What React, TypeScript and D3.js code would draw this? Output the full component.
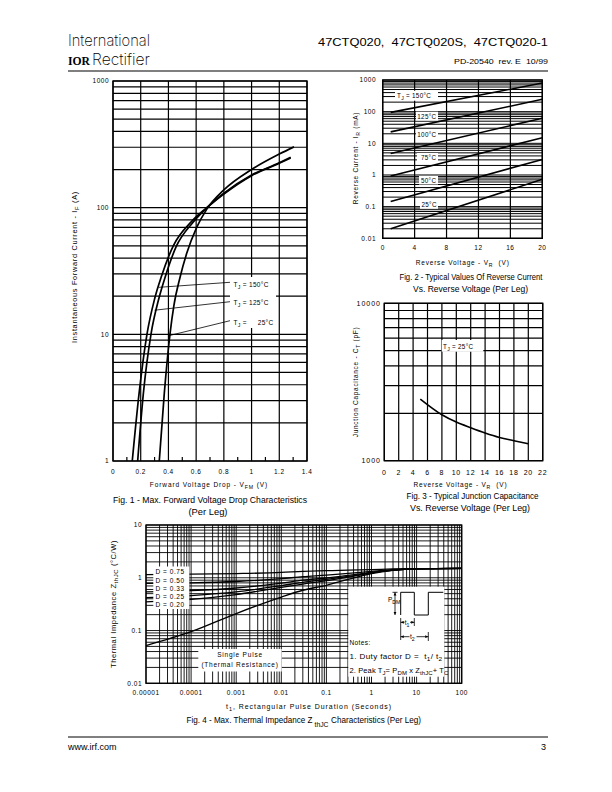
import React from 'react';
import * as d3 from 'd3';

const FONT = "'Liberation Sans', Arial, Helvetica, sans-serif";

// ---------------- Fig 1 data ----------------
const f1XTicks = [0, 0.2, 0.4, 0.6, 0.8, 1.0, 1.2, 1.4];
const f1XLabels = ['0', '0.2', '0.4', '0.6', '0.8', '1', '1.2', '1.4'];
const f1MinorX = [0.1, 0.3, 0.5, 0.7, 0.9, 1.1, 1.3];
const f1YTicks = [1, 10, 100, 1000];
const f1YLabels = ['1', '10', '100', '1000'];
const f1Tj150: [number, number][] = [[0.139, 1], [0.188, 3.4], [0.245, 10], [0.30, 19], [0.351, 29], [0.435, 50], [0.568, 78], [0.676, 100], [0.8, 130], [1.0, 181], [1.2, 226], [1.282, 250]];
const f1Tj125: [number, number][] = [[0.178, 1], [0.219, 3.4], [0.274, 10], [0.33, 19], [0.375, 28], [0.455, 49], [0.575, 76], [0.68, 100], [0.8, 128], [1.0, 179], [1.2, 224], [1.282, 247]];
const f1Tj25: [number, number][] = [[0.334, 1], [0.37, 3.4], [0.411, 10], [0.44, 17], [0.483, 28], [0.532, 43.6], [0.604, 70], [0.676, 97], [0.8, 138], [1.0, 200], [1.2, 265], [1.306, 302]];

// ---------------- Fig 2 data ----------------
const f2XTicks = [0, 4, 8, 12, 16, 20];
const f2YTicks = [0.01, 0.1, 1, 10, 100, 1000];
const f2YLabels = ['0.01', '0.1', '1', '10', '100', '1000'];
const f2Temps = ['150', '125', '100', '75', '50', '25'];
const f2Lines: [number, number][][] = [
  [[1, 95], [20, 800]],
  [[1, 23], [20, 245]],
  [[1, 4.8], [20, 62]],
  [[1, 0.93], [20, 15]],
  [[1, 0.145], [20, 3.1]],
  [[1, 0.02], [20, 0.73]],
];

// ---------------- Fig 3 data ----------------
const f3XTicks = [0, 2, 4, 6, 8, 10, 12, 14, 16, 18, 20, 22];
const f3YTicks = [1000, 10000];
const f3YLabels = ['1000', '10000'];
const f3Cap: [number, number][] = [[5, 2465], [8, 1960], [10, 1760], [12, 1620], [14, 1500], [16, 1405], [18, 1340], [20, 1280]];

// ---------------- Fig 4 data ----------------
const f4XTicks = [0.00001, 0.0001, 0.001, 0.01, 0.1, 1, 10, 100];
const f4XLabels = ['0.00001', '0.0001', '0.001', '0.01', '0.1', '1', '10', '100'];
const f4YTicks = [0.01, 0.1, 1, 10];
const f4YLabels = ['0.01', '0.1', '1', '10'];
const f4T = [1e-5, 1e-4, 1e-3, 1e-2, 3e-2, 1e-1, 3e-1, 1, 3, 10, 100];
const f4D075 = [1.15, 1.17, 1.2, 1.26, 1.32, 1.36, 1.4, 1.43, 1.47, 1.49, 1.5];
const f4D050 = [0.78, 0.8, 0.85, 0.96, 1.05, 1.12, 1.21, 1.32, 1.42, 1.48, 1.5];
const f4D033 = [0.54, 0.57, 0.64, 0.79, 0.9, 0.99, 1.11, 1.27, 1.4, 1.47, 1.5];
const f4D025 = [0.42, 0.46, 0.54, 0.71, 0.82, 0.93, 1.06, 1.24, 1.39, 1.47, 1.5];
const f4D020 = [0.35, 0.39, 0.48, 0.66, 0.76, 0.88, 1.03, 1.23, 1.39, 1.47, 1.5];
const f4Single = [0.052, 0.095, 0.21, 0.43, 0.58, 0.72, 0.93, 1.2, 1.38, 1.47, 1.5];
const f4DLabels = ['D = 0.75', 'D = 0.50', 'D = 0.33', 'D = 0.25', 'D = 0.20'];

function logGrid(min: number, max: number): number[] {
  const out: number[] = [];
  const e0 = Math.round(Math.log10(min));
  const e1 = Math.round(Math.log10(max));
  for (let e = e0; e < e1; e++) {
    for (let m = 1; m <= 9; m++) out.push(m * Math.pow(10, e));
  }
  out.push(max);
  return out;
}

type Part = string | { sub: string };

function Txt(props: {
  x: number; y: number; parts: Part[]; size?: number; anchor?: string; ls?: number;
  rot?: boolean; len?: number; family?: string; weight?: number | string; fill?: string;
}) {
  const { x, y, parts, size = 6.5, anchor = 'start', ls = 0, rot = false, len, family = FONT, weight, fill = '#000' } = props;
  const sh = size * 0.35;
  let shifted = false;
  const kids = parts.map((p, i) => {
    if (typeof p === 'string') {
      const el = <tspan key={i} dy={shifted ? -sh : 0}>{p}</tspan>;
      shifted = false;
      return el;
    }
    const el = <tspan key={i} dy={shifted ? 0 : sh} fontSize={size * 0.8}>{p.sub}</tspan>;
    shifted = true;
    return el;
  });
  const extra: any = {};
  if (len) { extra.textLength = len; extra.lengthAdjust = 'spacingAndGlyphs'; }
  return (
    <text x={rot ? 0 : x} y={rot ? 0 : y} transform={rot ? `translate(${x},${y}) rotate(-90)` : undefined}
      fontFamily={family} fontSize={size} textAnchor={anchor} fill={fill} fontWeight={weight}
      style={{ letterSpacing: ls ? `${ls}px` : undefined, whiteSpace: 'pre' }} {...extra}>
      {kids}
    </text>
  );
}

function Fig1() {
  const L = 113, R = 307, T = 81, B = 461;
  const x = d3.scaleLinear().domain([0, 1.4]).range([L, R]);
  const y = d3.scaleLog().domain([1, 1000]).range([B, T]);
  const line = d3.line<[number, number]>().x(d => x(d[0])).y(d => y(d[1])).curve(d3.curveMonotoneX);
  return (
    <g>
      {logGrid(1, 1000).map(v => <line key={'h' + v} x1={L} x2={R} y1={y(v)} y2={y(v)} stroke="#000" strokeWidth={1.2} />)}
      {f1XTicks.map(v => <line key={'v' + v} x1={x(v)} x2={x(v)} y1={T} y2={B} stroke="#000" strokeWidth={1.2} />)}
      {f1MinorX.map(v => <line key={'m' + v} x1={x(v)} x2={x(v)} y1={B} y2={B - 4} stroke="#000" strokeWidth={1.2} />)}
      {[f1Tj150, f1Tj125, f1Tj25].map((s, i) => <path key={i} d={line(s) || ''} fill="none" stroke="#000" strokeWidth={1.7} />)}
      <rect x={230} y={277} width={46} height={51} fill="#fff" />
      <line x1={230} y1={282.3} x2={x(0.33)} y2={y(23.5)} stroke="#000" strokeWidth={0.8} />
      <line x1={230} y1={301.7} x2={x(0.3)} y2={y(15.5)} stroke="#000" strokeWidth={0.8} />
      <line x1={230} y1={320.7} x2={x(0.41)} y2={y(9.8)} stroke="#000" strokeWidth={0.8} />
      <Txt x={233.5} y={286.5} parts={['T', { sub: 'J' }, ' = 150°C']} size={6.5} ls={0.3} />
      <Txt x={233.5} y={305} parts={['T', { sub: 'J' }, ' = 125°C']} size={6.5} ls={0.3} />
      <Txt x={233.5} y={324.5} parts={['T', { sub: 'J' }, ' =']} size={6.5} ls={0.3} />
      <Txt x={273.5} y={324.5} parts={['25°C']} size={6.5} ls={0.3} anchor="end" />
      <rect x={L} y={T} width={R - L} height={B - T} fill="none" stroke="#000" strokeWidth={1.4} />
      {f1YTicks.map((v, i) => <Txt key={'yl' + v} x={109} y={y(v) + 2.3} parts={[f1YLabels[i]]} anchor="end" ls={0.5} />)}
      {f1XTicks.map((v, i) => <Txt key={'xl' + v} x={x(v)} y={474} parts={[f1XLabels[i]]} anchor="middle" ls={0.5} />)}
      <Txt x={209} y={487} parts={['Forward Voltage Drop - V', { sub: 'FM' }, ' (V)']} anchor="middle" ls={0.9} />
      <Txt x={77} y={267} rot parts={['Instantaneous Forward Current - I', { sub: 'F' }, ' (A)']} anchor="middle" ls={0.6} len={152} />
      <Txt x={210} y={503} parts={['Fig. 1 - Max. Forward Voltage Drop Characteristics']} size={9} anchor="middle" len={194} />
      <Txt x={208} y={514.5} parts={['(Per Leg)']} size={9} anchor="middle" len={39} />
    </g>
  );
}

function Fig2() {
  const L = 382.7, R = 542.3, T = 80, B = 238.3;
  const x = d3.scaleLinear().domain([0, 20]).range([L, R]);
  const y = d3.scaleLog().domain([0.01, 1000]).range([B, T]);
  const line = d3.line<[number, number]>().x(d => x(d[0])).y(d => y(d[1]));
  const boxes = [
    { x: 395, y: 90.7, w: 43, h: 10, tx: 397, ty: 97.8, full: true },
    { x: 416, y: 111.7, w: 22, h: 8.8, tx: 417.3, ty: 118.5 },
    { x: 416, y: 130.5, w: 22, h: 8.8, tx: 417.3, ty: 137.4 },
    { x: 417, y: 153, w: 21, h: 8.5, tx: 421, ty: 160 },
    { x: 419, y: 176, w: 19, h: 8.5, tx: 421, ty: 182.5 },
    { x: 420, y: 200, w: 18, h: 8.8, tx: 421.5, ty: 206.8 },
  ];
  return (
    <g>
      {logGrid(0.01, 1000).map(v => <line key={'h' + v} x1={L} x2={R} y1={y(v)} y2={y(v)} stroke="#000" strokeWidth={1} />)}
      {f2XTicks.map(v => <line key={'v' + v} x1={x(v)} x2={x(v)} y1={T} y2={B} stroke="#000" strokeWidth={1.2} />)}
      {f2Lines.map((s, i) => <path key={i} d={line(s) || ''} fill="none" stroke="#000" strokeWidth={1.6} />)}
      {boxes.map((b, i) => (
        <g key={'b' + i}>
          <rect x={b.x} y={b.y} width={b.w} height={b.h} fill="#fff" />
          <Txt x={b.tx} y={b.ty} parts={b.full ? ['T', { sub: 'J' }, ' = ' + f2Temps[i] + '°C'] : [f2Temps[i] + '°C']} size={6.3} ls={0.3} />
        </g>
      ))}
      <rect x={L} y={T} width={R - L} height={B - T} fill="none" stroke="#000" strokeWidth={1.4} />
      {f2YTicks.map((v, i) => <Txt key={'yl' + v} x={376} y={y(v) + 2.3} parts={[f2YLabels[i]]} anchor="end" ls={0.5} />)}
      {f2XTicks.map(v => <Txt key={'xl' + v} x={x(v)} y={249.5} parts={[String(v)]} anchor="middle" ls={0.5} />)}
      <Txt x={462.7} y={265} parts={['Reverse Voltage - V', { sub: 'R' }, '  (V)']} anchor="middle" ls={0.8} />
      <Txt x={358} y={158} rot parts={['Reverse Current - I', { sub: 'R' }, ' (mA)']} anchor="middle" ls={0.7} />
      <Txt x={471} y={280} parts={['Fig. 2 - Typical Values Of Reverse Current']} size={9} anchor="middle" len={143} />
      <Txt x={470.5} y={292} parts={['Vs. Reverse Voltage (Per Leg)']} size={9} anchor="middle" len={115} />
    </g>
  );
}

function Fig3() {
  const L = 384.3, R = 542.7, T = 303.3, B = 460.7;
  const x = d3.scaleLinear().domain([0, 22]).range([L, R]);
  const y = d3.scaleLog().domain([1000, 10000]).range([B, T]);
  const line = d3.line<[number, number]>().x(d => x(d[0])).y(d => y(d[1])).curve(d3.curveMonotoneX);
  return (
    <g>
      {logGrid(1000, 10000).map(v => <line key={'h' + v} x1={L} x2={R} y1={y(v)} y2={y(v)} stroke="#000" strokeWidth={1.2} />)}
      {f3XTicks.map(v => <line key={'v' + v} x1={x(v)} x2={x(v)} y1={T} y2={B} stroke="#000" strokeWidth={1.2} />)}
      <path d={line(f3Cap) || ''} fill="none" stroke="#000" strokeWidth={1.6} />
      <rect x={441.7} y={340} width={41.6} height={11.7} fill="#fff" />
      <Txt x={443} y={348.5} parts={['T', { sub: 'J' }, ' = 25°C']} size={6.3} ls={0.3} />
      <rect x={L} y={T} width={R - L} height={B - T} fill="none" stroke="#000" strokeWidth={1.4} />
      {f3YTicks.map((v, i) => <Txt key={'yl' + v} x={381} y={y(v) + 2.4} parts={[f3YLabels[i]]} anchor="end" size={7} ls={1} />)}
      {f3XTicks.map(v => <Txt key={'xl' + v} x={x(v)} y={475} parts={[String(v)]} anchor="middle" size={7} ls={0.7} />)}
      <Txt x={460.5} y={486.5} parts={['Reverse Voltage - V', { sub: 'R' }, '  (V)']} anchor="middle" ls={0.8} />
      <Txt x={358} y={382} rot parts={['Junction Capacitance - C', { sub: 'T' }, ' (pF)']} anchor="middle" ls={0.7} />
      <Txt x={472.5} y={499} parts={['Fig. 3 - Typical Junction Capacitance']} size={9} anchor="middle" len={132} />
      <Txt x={470} y={511} parts={['Vs. Reverse Voltage (Per Leg)']} size={9} anchor="middle" len={120} />
    </g>
  );
}

function Fig4() {
  const L = 146, R = 461.7, T = 525, B = 683.3;
  const x = d3.scaleLog().domain([1e-5, 100]).range([L, R]);
  const y = d3.scaleLog().domain([0.01, 10]).range([B, T]);
  const line = d3.line<number>().x((_, i) => x(f4T[i])).y(d => y(d)).curve(d3.curveMonotoneX);
  const series = [f4D075, f4D050, f4D033, f4D025, f4D020, f4Single];
  const px0 = 400.7, px1 = 414.3, px2 = 428.3, px3 = 443.3, hi = 592.3, lo = 615;
  const arrow = (ax: number, ay: number, dir: string) => {
    const s = 2.2;
    let pts = '';
    if (dir === 'up') pts = `${ax},${ay} ${ax - s / 1.6},${ay + s * 1.4} ${ax + s / 1.6},${ay + s * 1.4}`;
    if (dir === 'down') pts = `${ax},${ay} ${ax - s / 1.6},${ay - s * 1.4} ${ax + s / 1.6},${ay - s * 1.4}`;
    if (dir === 'left') pts = `${ax},${ay} ${ax + s * 1.4},${ay - s / 1.6} ${ax + s * 1.4},${ay + s / 1.6}`;
    if (dir === 'right') pts = `${ax},${ay} ${ax - s * 1.4},${ay - s / 1.6} ${ax - s * 1.4},${ay + s / 1.6}`;
    return <polygon points={pts} fill="#000" />;
  };
  return (
    <g>
      {logGrid(0.01, 10).map(v => <line key={'h' + v} x1={L} x2={R} y1={y(v)} y2={y(v)} stroke="#000" strokeWidth={0.9} />)}
      {logGrid(1e-5, 100).map(v => <line key={'v' + v} x1={x(v)} x2={x(v)} y1={T} y2={B} stroke="#000" strokeWidth={0.9} />)}
      {series.map((s, i) => <path key={i} d={line(s) || ''} fill="none" stroke="#000" strokeWidth={1.3} />)}
      <rect x={153.3} y={566.5} width={36} height={42.5} fill="#fff" />
      {f4DLabels.map((t, i) => <Txt key={t} x={155.5} y={574.2 + i * 8.3} parts={[t]} size={6.5} ls={0.55} />)}
      <rect x={198.3} y={649} width={83.4} height={22.5} fill="#fff" />
      <Txt x={240} y={657} parts={['Single Pulse']} anchor="middle" size={6.5} ls={0.8} />
      <Txt x={240} y={667} parts={['(Thermal Resistance)']} anchor="middle" size={6.5} ls={0.75} />
      <rect x={348.3} y={586.7} width={96} height={90} fill="#fff" />
      <path d={`M${px0},${lo} V${hi} H${px1} V${lo} H${px2} V${hi} H${px3}`} fill="none" stroke="#000" strokeWidth={1} />
      <line x1={395} x2={395} y1={hi} y2={lo} stroke="#000" strokeWidth={0.8} />
      {arrow(395, hi, 'up')}
      {arrow(395, lo, 'down')}
      <line x1={392.5} x2={397.5} y1={hi} y2={hi} stroke="#000" strokeWidth={0.8} />
      <Txt x={388} y={602} parts={['P', { sub: 'DM' }]} size={6.5} />
      <line x1={px0} x2={px0} y1={618} y2={640} stroke="#000" strokeWidth={0.8} />
      <line x1={px1} x2={px1} y1={618} y2={626} stroke="#000" strokeWidth={0.8} />
      <line x1={px2} x2={px2} y1={632} y2={641} stroke="#000" strokeWidth={0.8} />
      <line x1={px0} x2={px1} y1={622.3} y2={622.3} stroke="#000" strokeWidth={0.8} />
      {arrow(px0, 622.3, 'left')}
      {arrow(px1, 622.3, 'right')}
      <rect x={404.5} y={618.5} width={5.5} height={7} fill="#fff" />
      <Txt x={404.8} y={624.5} parts={['t', { sub: '1' }]} size={6.5} />
      <line x1={px0} x2={px2} y1={636.7} y2={636.7} stroke="#000" strokeWidth={0.8} />
      {arrow(px0, 636.7, 'left')}
      {arrow(px2, 636.7, 'right')}
      <rect x={409.5} y={632.5} width={7} height={7} fill="#fff" />
      <Txt x={410} y={638.8} parts={['t', { sub: '2' }]} size={6.5} />
      <Txt x={349.5} y={645} parts={['Notes:']} size={6.5} ls={0.4} />
      <Txt x={349.5} y={659} parts={['1. Duty factor D =  t', { sub: '1' }, '/ t', { sub: '2' }]} size={6.5} ls={0.3} len={93} />
      <Txt x={349.5} y={672.5} parts={['2. Peak T', { sub: 'J' }, '= P', { sub: 'DM' }, ' x Z', { sub: 'thJC' }, '+ T', { sub: 'C' }]} size={6.5} ls={0.1} len={99} />
      <rect x={L} y={T} width={R - L} height={B - T} fill="none" stroke="#000" strokeWidth={1.3} />
      {f4YTicks.map((v, i) => <Txt key={'yl' + v} x={142} y={y(v) + 2.3} parts={[f4YLabels[i]]} anchor="end" ls={0.5} />)}
      {f4XTicks.map((v, i) => <Txt key={'xl' + v} x={x(v)} y={694.5} parts={[f4XLabels[i]]} anchor="middle" ls={0.5} />)}
      <Txt x={309} y={708.5} parts={['t', { sub: '1' }, ', Rectangular Pulse Duration (Seconds)']} anchor="middle" ls={0.9} len={166} />
      <Txt x={116} y={604} rot parts={['Thermal Impedance Z', { sub: 'thJC' }, ' (°C/W)']} anchor="middle" ls={0.5} len={128} />
      <Txt x={312.5} y={723} parts={['Fig. 4 - Max. Thermal Impedance Z']} size={9} anchor="end" len={126} />
      <Txt x={314.5} y={726.5} parts={['thJC']} size={6.8} len={14} />
      <Txt x={331} y={723} parts={['Characteristics (Per Leg)']} size={9} len={90} />
    </g>
  );
}

function Header() {
  return (
    <g>
      <Txt x={68} y={45.5} parts={['International']} size={15.5} family="Inter, 'Open Sans', sans-serif" weight={200} len={82} />
      <Txt x={68} y={65} parts={['IOR']} size={11.5} family="'Liberation Serif', serif" weight={900} len={22} />
      <Txt x={92} y={65} parts={['Rectifier']} size={15.5} family="Inter, 'Open Sans', sans-serif" weight={200} len={58} />
      <Txt x={548} y={46} parts={['47CTQ020,  47CTQ020S,  47CTQ020-1']} size={11.5} anchor="end" len={230} />
      <Txt x={548} y={64} parts={['PD-20540  rev. E  10/99']} size={7.5} anchor="end" len={94} />
      <line x1={68} x2={548} y1={71} y2={71} stroke="#000" strokeWidth={1.2} />
      <line x1={68} x2={548} y1={737} y2={737} stroke="#000" strokeWidth={1} />
      <Txt x={68} y={750} parts={['www.irf.com']} size={9} />
      <Txt x={546} y={750} parts={['3']} size={9} anchor="end" />
    </g>
  );
}

export default function App() {
  return (
    <svg width={612} height={792} viewBox="0 0 612 792" style={{ position: 'absolute', left: 0, top: 0, background: '#fff' }}>
      <rect x={0} y={0} width={612} height={792} fill="#fff" />
      <Header />
      <Fig1 />
      <Fig2 />
      <Fig3 />
      <Fig4 />
    </svg>
  );
}
